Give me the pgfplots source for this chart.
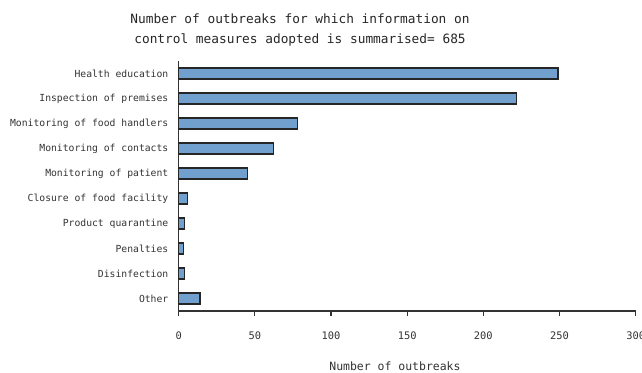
\documentclass[border=0pt]{standalone}
\usepackage{fontspec}
\setmainfont{DejaVu Sans Mono}
\usepackage{pgfplots}
\pgfplotsset{compat=1.18}
\definecolor{barblue}{RGB}{114,160,206}
\definecolor{axgray}{RGB}{51,51,51}
\begin{document}
\begin{tikzpicture}
\useasboundingbox (-134.025pt,-45.75pt) rectangle (347.475pt,233.25pt);
\begin{axis}[
  at={(0pt,0pt)}, anchor=south west,
  scale only axis, width=342.75pt, height=187.5pt,
  xbar, bar width=8.25pt,
  xmin=0, xmax=300, ymin=-0.5, ymax=9.5,
  axis lines*=left,
  axis line style={axgray, line width=0.9pt},
  xtick={0,50,...,300},
  ytick={0,...,9},
  yticklabels={Other,Disinfection,Penalties,Product quarantine,Closure of food facility,Monitoring of patient,Monitoring of contacts,Monitoring of food handlers,Inspection of premises,Health education},
  tick align=outside,
  major tick length=3.75pt,
  ytick style={draw=none},
  xtick style={axgray, line width=0.9pt},
  /pgf/number format/assume math mode=true,
  xticklabel style={font=\fontsize{7.8}{9}\selectfont, color=black!80, yshift=-8pt},
  yticklabel style={font=\fontsize{7.3}{9}\selectfont, color=black!80, xshift=-0.5pt},
  clip=false,
]
\addplot[fill=barblue, draw=black!85, line width=0.8pt] coordinates {
(14,0) (4,1) (3,2) (4,3) (6,4) (45,5) (62,6) (78,7) (222,8) (249,9)
};
\end{axis}
\node[align=center, font=\fontsize{9.6}{15}\selectfont, color=black!85] at (91pt,210.75pt) {Number of outbreaks for which information on\\control measures adopted is summarised= 685};
\node[font=\fontsize{8.6}{10}\selectfont, color=black!80] at (162.2pt,-41.25pt) {Number of outbreaks};
\end{tikzpicture}
\end{document}
